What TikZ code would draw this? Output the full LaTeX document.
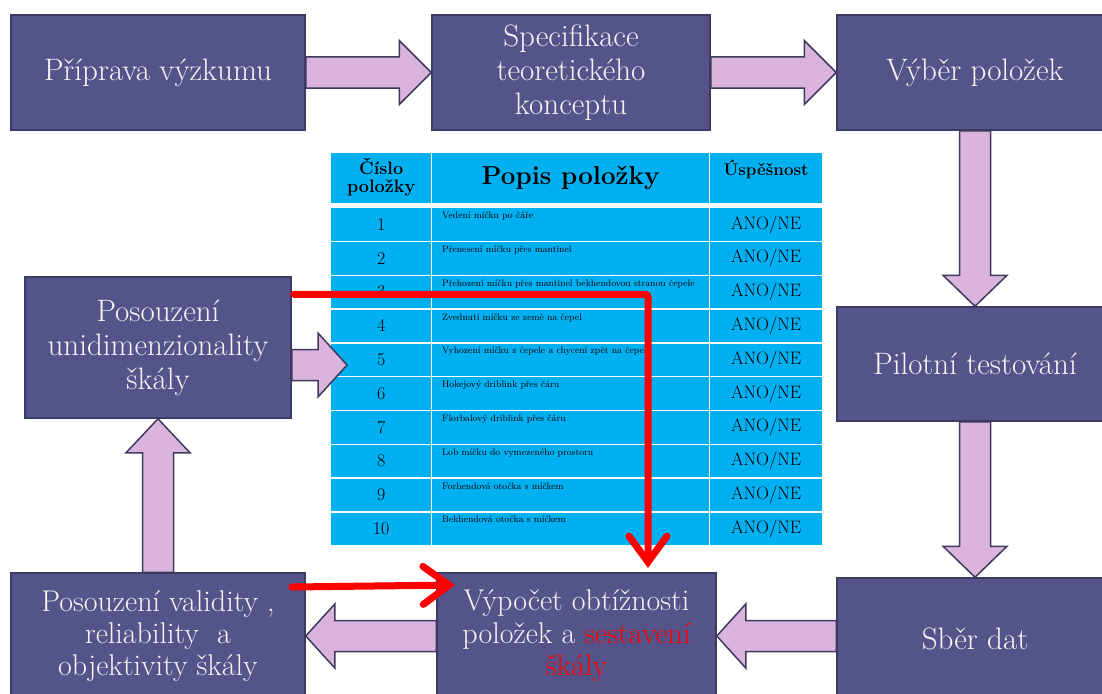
\documentclass[tikz,border=0pt]{standalone}
\usepackage{fontspec}
\usetikzlibrary{arrows.meta,calc,positioning}

\definecolor{boxfill}{HTML}{55548A}
\definecolor{boxline}{HTML}{3C3B63}
\definecolor{boxtext}{HTML}{F4F4F4}
\definecolor{arrfill}{HTML}{DAB4DC}
\definecolor{arrline}{HTML}{3E395E}
\definecolor{tabcyan}{HTML}{00B0F0}

% fat block arrow from #2 to #3, head length #1
\newcommand{\fatarrow}[3][29pt]{%
  \coordinate (fa-base) at ($(#3)!#1!(#2)$);
  \draw[fatarrow] ($(#2)!15.5pt!90:(#3)$) -- ($(fa-base)!15.5pt!-90:(#2)$)
    -- ($(fa-base)!32pt!-90:(#2)$) -- (#3) -- ($(fa-base)!32pt!90:(#2)$)
    -- ($(fa-base)!15.5pt!90:(#2)$) -- ($(#2)!15.5pt!-90:(#3)$) -- cycle;}

\begin{document}
\begin{tikzpicture}[x=1pt,y=-1pt,
    stage/.style={rectangle,draw=boxline,fill=boxfill,line width=1.5pt,text=boxtext,
      align=center,inner sep=4pt,font=\fontsize{31}{34}\selectfont},
    fatarrow/.style={draw=arrline,fill=arrfill,line width=1.5pt,line join=miter},
    cell/.style={rectangle,draw=white,fill=tabcyan,line width=1.3pt,inner sep=0pt,
      minimum height=33.8pt,anchor=north west},
    redarrow/.style={draw=red,line width=7pt,line cap=round,rounded corners=3pt,
      -{Straight Barb[length=26pt 0,width=38pt 0,line cap=round]}}]
  \useasboundingbox (0,0) rectangle (1102,693);

  % stages
  \node[stage,minimum width=294pt,minimum height=115pt] (prep) at (158,72.5) {Příprava výzkumu};
  \node[stage,minimum width=278pt,minimum height=115pt] (spec) at (571,72.5) {Specifikace\\teoretického\\konceptu};
  \node[stage,minimum width=276pt,minimum height=115pt] (vyber) at (975,72.5) {Výběr položek};
  \node[stage,minimum width=276pt,minimum height=114pt] (pilot) at (975,364) {Pilotní testování};
  \node[stage,minimum width=276pt,minimum height=122pt] (sber) at (975,639) {Sběr dat};
  \node[stage,minimum width=279pt,minimum height=126pt,font=\fontsize{30}{32.5}\selectfont] (vypocet) at (576.5,636)
    {Výpočet obtížnosti\\položek a \textcolor{red}{sestavení}\\\textcolor{red}{škály}};
  \node[stage,minimum width=294pt,minimum height=126pt,font=\fontsize{30}{32}\selectfont] (valid) at (158,636)
    {Posouzení validity ,\\reliability~~a\\objektivity škály};
  \node[stage,minimum width=266pt,minimum height=141pt] (unidim) at (158,347.5)
    {Posouzení\\unidimenzionality\\škály};

  % block arrows
  \fatarrow[32pt]{prep.east}{spec.west}
  \fatarrow[32pt]{spec.east}{vyber.west}
  \fatarrow[31pt]{vyber.south}{pilot.north}
  \fatarrow[31pt]{pilot.south}{sber.north}
  \fatarrow{sber.west |- vypocet.east}{vypocet.east}
  \fatarrow{vypocet.west}{valid.east}
  \fatarrow[34pt]{valid.north}{unidim.south}

  % table
  \node[cell,minimum width=101pt,minimum height=51pt] (hnum) at (330,152)
    {\fontsize{18}{20}\selectfont\bfseries\begin{tabular}{@{}c@{}}Číslo\\[-2pt]položky\end{tabular}};
  \node[cell,minimum width=278pt,minimum height=51pt] (hdesc) at (431,152)
    {\fontsize{26}{28}\selectfont\bfseries Popis položky};
  \node[cell,minimum width=113pt,minimum height=51pt,text depth=20pt] (hres) at (709,152)
    {\fontsize{17}{18}\selectfont\bfseries Úspěšnost};
  \foreach \i/\txt in {1/{Vedení míčku po čáře},2/{Přenesení míčku přes mantinel},
      3/{Přehození míčku přes mantinel bekhendovou stranou čepele},
      4/{Zvednutí míčku ze země na čepel},5/{Vyhození míčku z čepele a chycení zpět na čepel},
      6/{Hokejový driblink přes čáru},7/{Florbalový driblink přes čáru},
      8/{Lob míčku do vymezeného prostoru},9/{Forhendová otočka s míčkem},
      10/{Bekhendová otočka s míčkem}}{
    \pgfmathsetmacro\rowtop{207+(\i-1)*33.8}
    \node[cell,minimum width=101pt,font=\fontsize{18}{19}\selectfont] (num\i) at (330,\rowtop) {\raisebox{-3pt}{\i}};
    \node[cell,minimum width=278pt] (desc\i) at (431,\rowtop) {};
    \node[anchor=north west,inner sep=0pt,font=\fontsize{9.4}{10}\selectfont] (item\i)
      at ($(desc\i.north west)+(11,5)$) {\txt};
    \node[cell,minimum width=113pt,font=\fontsize{18}{19}\selectfont] (res\i) at (709,\rowtop) {ANO/NE};
  }

  % into the table
  \coordinate (tabin) at (347,365);
  \fatarrow{unidim.east |- tabin}{tabin}

  % red arrows
  \coordinate (redstart) at ($(unidim.north east)+(2,18)$);
  \coordinate (redtip) at (648,568);
  \draw[redarrow] (redstart) -| (redtip);
  \coordinate (redstart2) at (292,587);
  \coordinate (redtip2) at (455,585);
  \draw[redarrow] (redstart2) -- (redtip2);
\end{tikzpicture}
\end{document}
